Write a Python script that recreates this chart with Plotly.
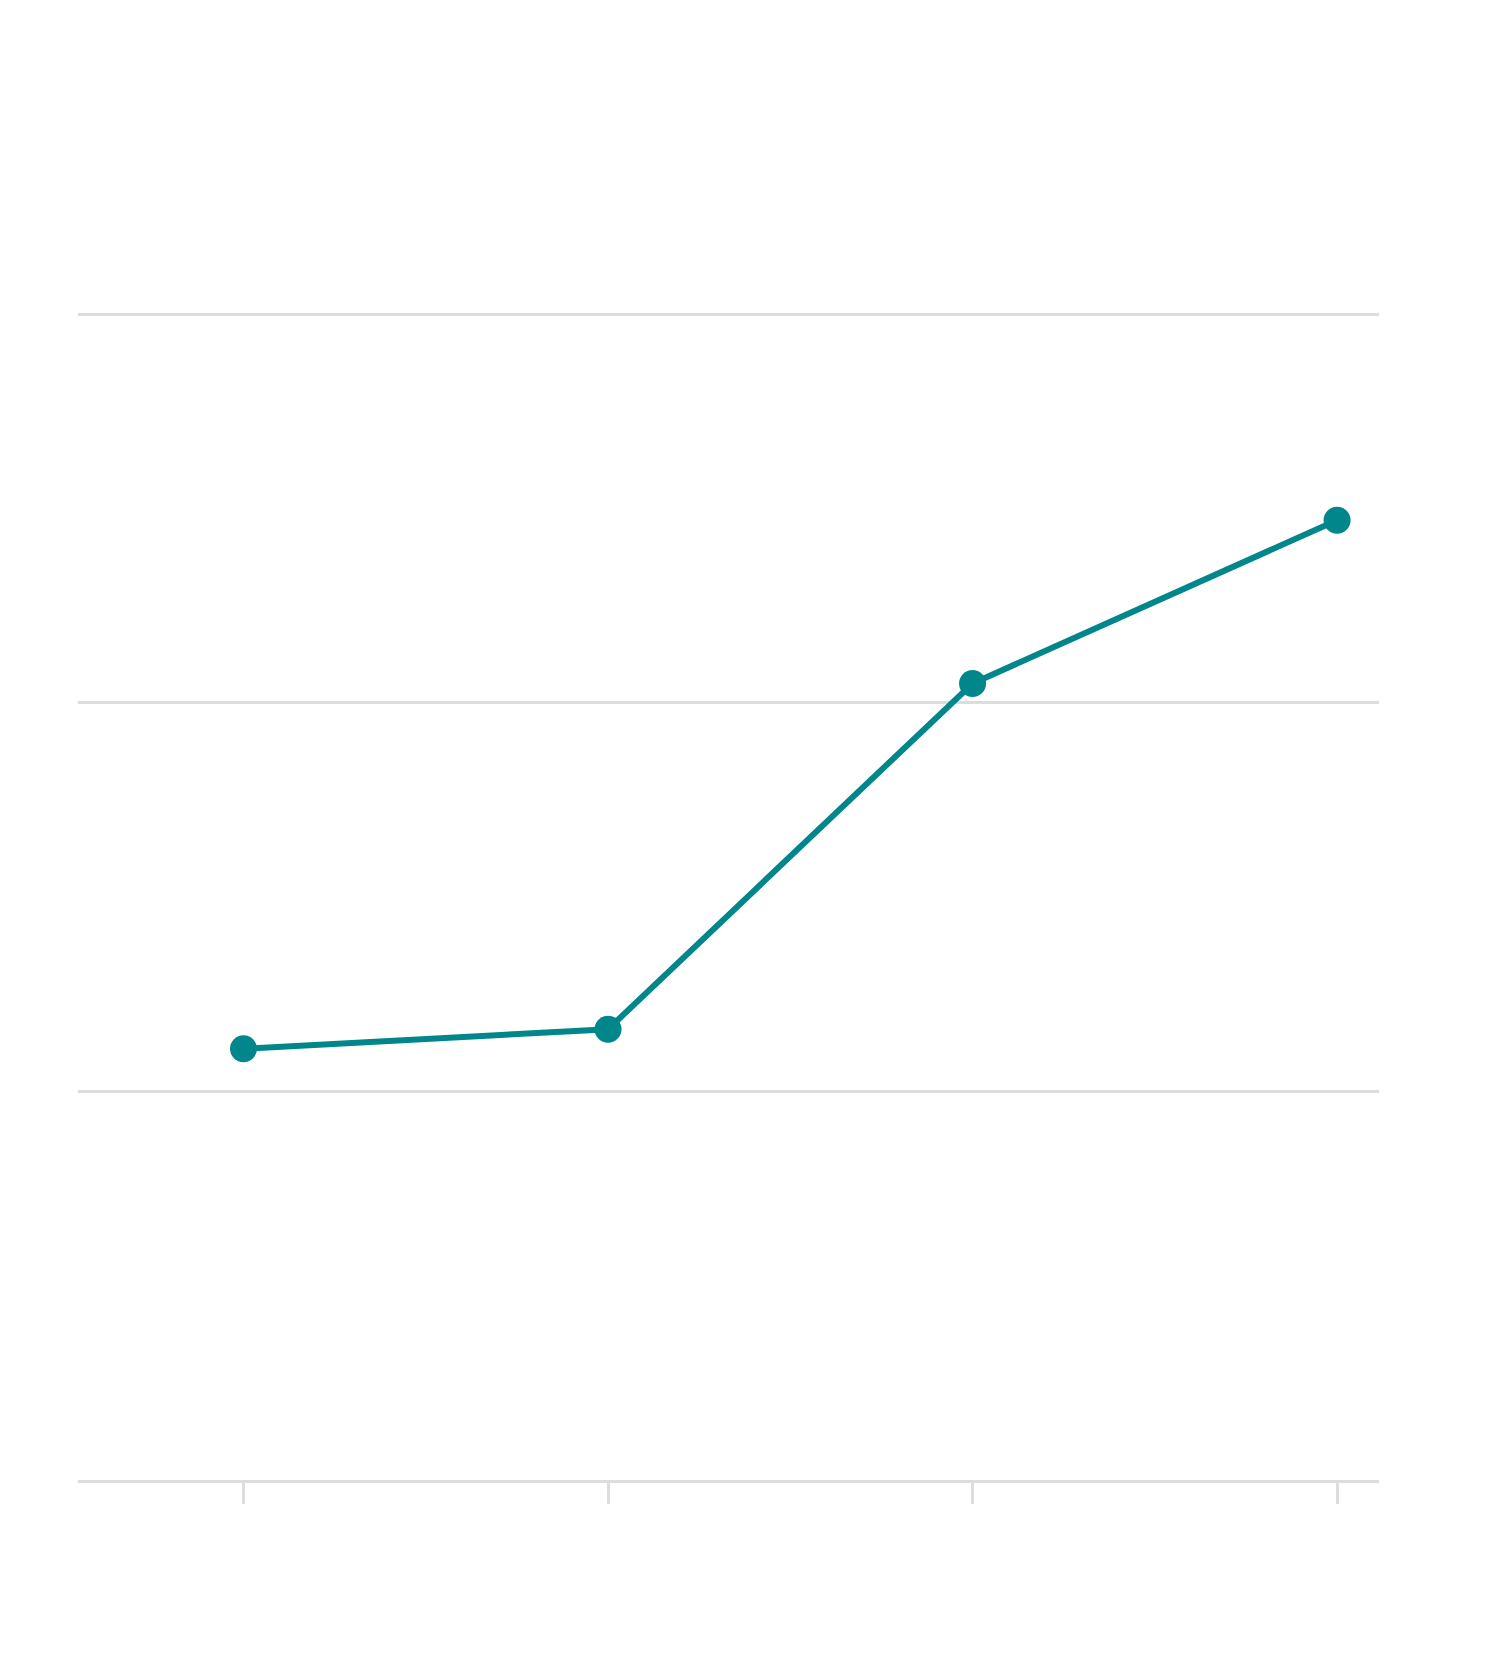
import plotly.graph_objects as go

x_vals = [0, 1, 2, 3]
y_vals = [1.11, 1.16, 2.05, 2.47]

fig = go.Figure(go.Scatter(x=x_vals, y=y_vals, mode="lines+markers",
    line=dict(color="#00868b", width=6), marker=dict(color="#00868b", size=27)))
fig.update_layout(width=1492, height=1659, margin=dict(l=70, r=121, t=304, b=187),
    plot_bgcolor="white", paper_bgcolor="white", showlegend=False)
fig.update_xaxes(range=[-0.454, 3.115], tickvals=x_vals, showticklabels=False,
    ticks="outside", ticklen=21, tickwidth=3, tickcolor="#dddddd",
    showgrid=False, zeroline=False, showline=True, linecolor="#dddddd", linewidth=3)
fig.update_yaxes(range=[0, 3.006], tickvals=[0, 1, 2, 3], showticklabels=False,
    gridcolor="#dddddd", gridwidth=3, zeroline=False)
fig.write_html("out.html")
